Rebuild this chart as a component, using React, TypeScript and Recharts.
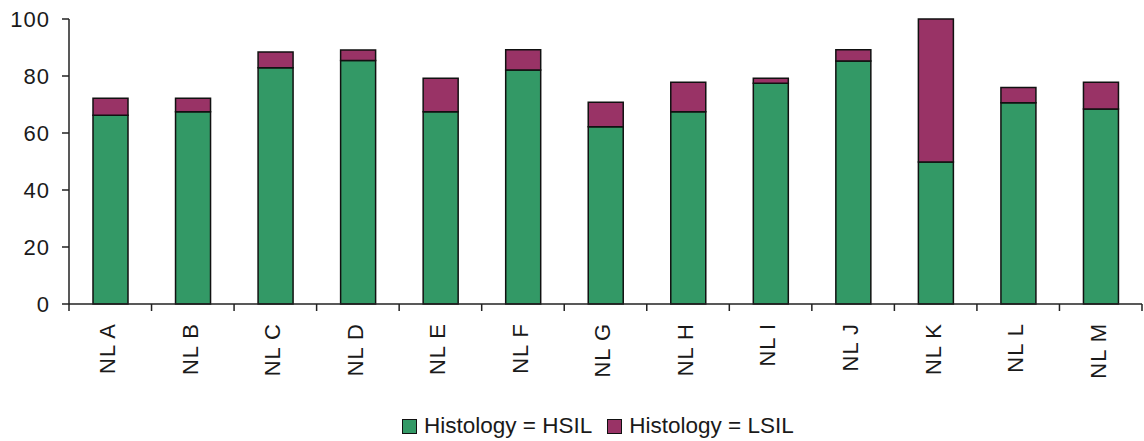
import React from "react";
import { BarChart, Bar, XAxis, YAxis, Legend } from "recharts";

const categories = ["NL A", "NL B", "NL C", "NL D", "NL E", "NL F", "NL G", "NL H", "NL I", "NL J", "NL K", "NL L", "NL M"];
const hsil = [66.2, 67.5, 82.9, 85.4, 67.5, 82.1, 62.2, 67.5, 77.5, 85.3, 49.8, 70.6, 68.4];
const lsil = [6.0, 4.7, 5.5, 3.7, 11.7, 7.1, 8.6, 10.3, 1.7, 3.9, 50.2, 5.4, 9.4];
const yTicks = [0, 20, 40, 60, 80, 100];

const GREEN = "#339966";
const MAROON = "#993366";
const FONT = "'Liberation Sans', Arial, sans-serif";
const TEXT = "#1a1a1a";
const AXIS = "#222";

const data = categories.map((name, i) => ({ name, hsil: hsil[i], lsil: lsil[i] }));

const PLOT_LEFT = 69;
const PLOT_RIGHT = 1142;
const BAND = (PLOT_RIGHT - PLOT_LEFT) / categories.length;

function XTick(props: any) {
  const { x, payload, index } = props;
  const axisY = 304;
  return (
    <g>
      <line x1={x - BAND / 2} x2={x - BAND / 2} y1={axisY} y2={axisY + 7} stroke={AXIS} strokeWidth={1.5} />
      {index === categories.length - 1 && (
        <line x1={x + BAND / 2} x2={x + BAND / 2} y1={axisY} y2={axisY + 7} stroke={AXIS} strokeWidth={1.5} />
      )}
      <g transform={`translate(${x - 3},${axisY + 19})`}>
        <text
          transform="rotate(-90)"
          textAnchor="end"
          dy="0.36em"
          fill={TEXT}
          fontSize={22}
          letterSpacing={1}
          fontFamily={FONT}
        >
          {payload.value}
        </text>
      </g>
    </g>
  );
}

function LegendContent() {
  const items = [
    { label: "Histology = HSIL", color: GREEN },
    { label: "Histology = LSIL", color: MAROON },
  ];
  return (
    <div style={{ display: "flex", alignItems: "center", paddingLeft: 402, fontFamily: FONT, fontSize: 22.5, color: TEXT }}>
      {items.map((it) => (
        <div key={it.label} style={{ display: "flex", alignItems: "center", marginRight: 15 }}>
          <span style={{ display: "inline-block", width: 13, height: 13, background: it.color, border: "1.5px solid #111", marginRight: 7 }} />
          <span>{it.label}</span>
        </div>
      ))}
    </div>
  );
}

export default function App() {
  return (
    <div style={{ position: "absolute", left: 0, top: 0, width: 1144, height: 441, background: "#fff" }}>
      <BarChart width={1144} height={441} data={data} margin={{ top: 19, right: 2, left: 0, bottom: 0 }} barSize={35}>
        <YAxis
          width={PLOT_LEFT}
          domain={[0, 100]}
          ticks={yTicks}
          interval={0}
          tickSize={7}
          tickMargin={12}
          axisLine={{ stroke: AXIS, strokeWidth: 1.5 }}
          tickLine={{ stroke: AXIS, strokeWidth: 1.5 }}
          tick={{ fill: TEXT, fontSize: 22, fontFamily: FONT, letterSpacing: 1 }}
        />
        <XAxis
          dataKey="name"
          height={103}
          interval={0}
          tickLine={false}
          axisLine={{ stroke: AXIS, strokeWidth: 1.5 }}
          tick={<XTick />}
        />
        <Legend
          verticalAlign="bottom"
          content={<LegendContent />}
          wrapperStyle={{ left: 0, width: 1144, height: 34, bottom: -6 }}
        />
        <Bar dataKey="hsil" stackId="a" fill={GREEN} stroke="#111" strokeWidth={1.5} isAnimationActive={false} />
        <Bar dataKey="lsil" stackId="a" fill={MAROON} stroke="#111" strokeWidth={1.5} isAnimationActive={false} />
      </BarChart>
    </div>
  );
}
